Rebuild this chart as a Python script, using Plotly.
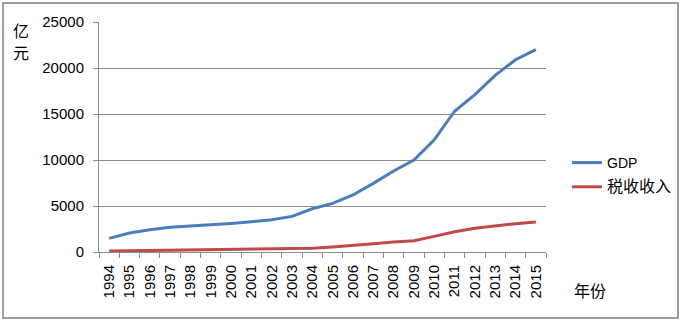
import plotly.graph_objects as go

years = [str(y) for y in range(1994, 2016)]
gdp = [1480, 2070, 2420, 2680, 2830, 2930, 3110, 3290, 3510, 3870, 4700,
       5290, 6200, 7460, 8800, 10000, 12200, 15300, 17100, 19200, 20900, 22000]
tax = [100, 130, 150, 180, 200, 220, 250, 280, 310, 350, 400,
       540, 680, 900, 1090, 1230, 1700, 2210, 2570, 2830, 3080, 3260]

y_ticks = [0, 5000, 10000, 15000, 20000, 25000]

FONT = "Liberation Sans, Arial, Noto Sans CJK SC, sans-serif"
CJK = "Noto Sans CJK SC"
GRID = "#8c8c8c"

L, R, T, B = 99, 139, 22, 70
W, H = 685, 322
pw, ph = W - L - R, H - T - B

def px(x):
    return (x - L) / pw

def py(y):
    return 1 - (y - T) / ph

fig = go.Figure()
fig.add_trace(go.Scatter(x=years, y=gdp, mode="lines", name="GDP",
                         line=dict(color="#4A7EBB", width=3), legendgroup="a"))
fig.add_trace(go.Scatter(x=years, y=tax, mode="lines",
                         name="<span style='font-size:16px'>税收收入</span>",
                         line=dict(color="#BE4B48", width=3), legendgroup="b"))

fig.update_layout(
    width=W, height=H,
    margin=dict(l=L, r=R, t=T, b=B, autoexpand=False),
    paper_bgcolor="white", plot_bgcolor="white",
    font=dict(family=FONT, size=14, color="black"),
    showlegend=True,
    legend=dict(x=px(567), y=py(147), xanchor="left", yanchor="top",
                font=dict(family=FONT, size=14), tracegroupgap=3,
                traceorder="grouped", bgcolor="rgba(0,0,0,0)"),
    xaxis=dict(type="category", range=[-0.5, len(years) - 0.5],
               tickangle=-90, tickson="boundaries", ticks="outside",
               ticklen=5, tickcolor=GRID, showline=True, linecolor=GRID,
               linewidth=1, showgrid=False, tickfont=dict(size=15),
               ticklabelstandoff=6, fixedrange=True),
    yaxis=dict(range=[0, 25000], tickvals=y_ticks, tickformat="d",
               ticks="outside", ticklen=5, tickcolor=GRID, showline=True,
               linecolor=GRID, linewidth=1, showgrid=True, gridcolor=GRID,
               gridwidth=1, zeroline=False, tickfont=dict(size=15),
               ticklabelstandoff=6, fixedrange=True),
    annotations=[
        dict(text="亿", x=px(21), y=py(30), xref="paper", yref="paper",
             showarrow=False, font=dict(family=CJK, size=16),
             xanchor="center", yanchor="middle"),
        dict(text="元", x=px(21), y=py(52), xref="paper", yref="paper",
             showarrow=False, font=dict(family=CJK, size=16),
             xanchor="center", yanchor="middle"),
        dict(text="年份", x=px(590), y=py(290), xref="paper", yref="paper",
             showarrow=False, font=dict(family=CJK, size=16),
             xanchor="center", yanchor="middle"),
    ],
    shapes=[dict(type="rect", xref="paper", yref="paper",
                 x0=px(3), x1=px(678), y0=py(318), y1=py(3),
                 line=dict(color="#7f7f7f", width=1.5))],
)

fig.write_html("out.html", config={"displayModeBar": False},
               post_script="document.body.style.margin='0';document.body.style.padding='0';")
